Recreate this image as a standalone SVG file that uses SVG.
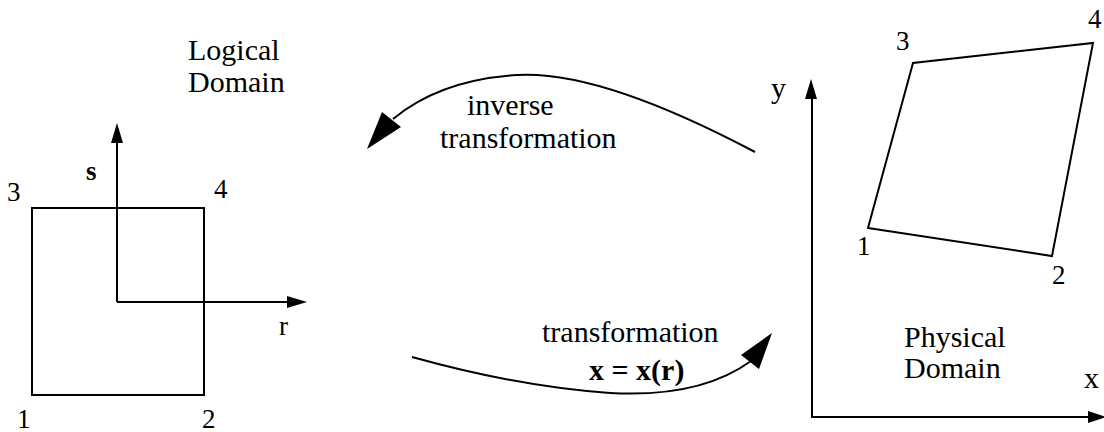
<svg xmlns="http://www.w3.org/2000/svg" width="1104" height="432" viewBox="0 0 1104 432">
<style>
.ln{fill:none;stroke:#000;stroke-width:2}
.hd{fill:#000;stroke:none}
text{font-family:"Liberation Serif","Times New Roman",serif;fill:#000}
.lb{font-size:30px}
.dg{font-size:27px}
.bd{font-weight:bold}
</style>
<g id="logical-domain">
<rect class="ln" x="32" y="208" width="172" height="187"/>
<line class="ln" x1="117" y1="302" x2="117" y2="140"/>
<polygon class="hd" points="117,123 111,143 123,143"/>
<line class="ln" x1="117" y1="302" x2="290" y2="302"/>
<polygon class="hd" points="307,302 287,296 287,308"/>
<text class="lb" x="188" y="60">Logical</text>
<text class="lb" x="188" y="92">Domain</text>
<text class="dg bd" x="86" y="180">s</text>
<text class="dg" x="279" y="335">r</text>
<text class="dg" x="7" y="201">3</text>
<text class="dg" x="214" y="198">4</text>
<text class="dg" x="17" y="428">1</text>
<text class="dg" x="202" y="428">2</text>
</g>
<g id="physical-domain">
<line class="ln" x1="812" y1="417" x2="812" y2="96"/>
<polygon class="hd" points="811,79 805,99 817,99"/>
<line class="ln" x1="811" y1="417" x2="1090" y2="417"/>
<polygon class="hd" points="1106,417 1088,411 1088,423"/>
<polygon class="ln" points="868,228 1052,256 1093,43 913,63"/>
<text class="lb" x="904" y="347">Physical</text>
<text class="lb" x="904" y="378">Domain</text>
<text class="lb" x="1084" y="388">x</text>
<text class="lb" x="771" y="98">y</text>
<text class="dg" x="896" y="50">3</text>
<text class="dg" x="1088" y="28">4</text>
<text class="dg" x="857" y="255">1</text>
<text class="dg" x="1052" y="284">2</text>
</g>
<g id="connectors">
<path class="ln" d="M755,152 Q600,70 517,75 Q440,80 393,119"/>
<polygon class="hd" points="367,149 382,112 401,127"/>
<path class="ln" d="M412,357 Q520,387 610,393 Q700,398 751,361"/>
<polygon class="hd" points="772,333 741,355 759,369"/>
</g>
<g id="labels">
<text class="lb" x="467" y="115">inverse</text>
<text class="lb" x="440" y="148">transformation</text>
<text class="lb" x="542" y="342">transformation</text>
<text class="lb bd" x="589" y="380">x = x(r)</text>
</g>
</svg>
